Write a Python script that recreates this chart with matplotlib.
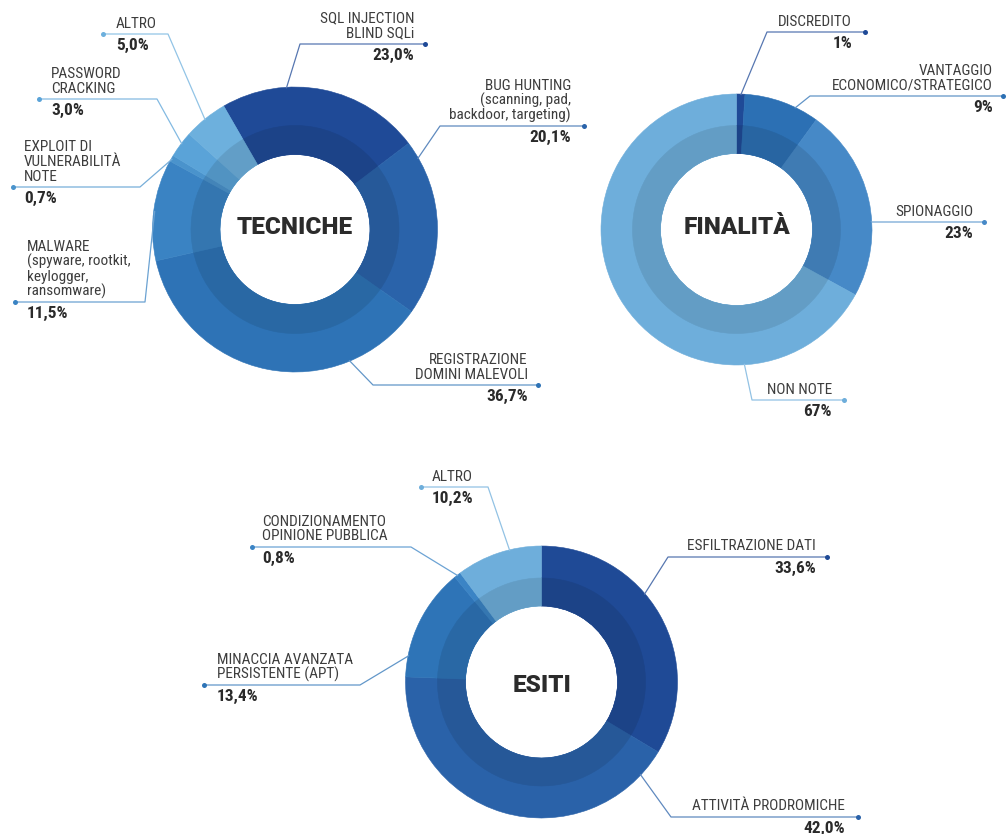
import matplotlib
matplotlib.use('Agg')
import matplotlib.pyplot as plt
import numpy as np
from matplotlib.colors import to_rgb

# ---------------- data ----------------
tec_labels = [["SQL INJECTION", "BLIND SQLi"],
              ["BUG HUNTING", "(scanning, pad,", "backdoor, targeting)"],
              ["REGISTRAZIONE", "DOMINI MALEVOLI"],
              ["MALWARE", "(spyware, rootkit,", "keylogger,", "ransomware)"],
              ["EXPLOIT DI", "VULNERABILITÀ", "NOTE"],
              ["PASSWORD", "CRACKING"],
              ["ALTRO"]]
tec_values = [23.0, 20.1, 36.7, 11.5, 0.7, 3.0, 5.0]
tec_pct = ["23,0%", "20,1%", "36,7%", "11,5%", "0,7%", "3,0%", "5,0%"]

fin_labels = [["DISCREDITO"],
              ["VANTAGGIO", "ECONOMICO/STRATEGICO"],
              ["SPIONAGGIO"],
              ["NON NOTE"]]
fin_values = [1, 9, 23, 67]
fin_pct = ["1%", "9%", "23%", "67%"]

esi_labels = [["ESFILTRAZIONE DATI"],
              ["ATTIVITÀ PRODROMICHE"],
              ["MINACCIA AVANZATA", "PERSISTENTE (APT)"],
              ["CONDIZIONAMENTO", "OPINIONE PUBBLICA"],
              ["ALTRO"]]
esi_values = [33.6, 42.0, 13.4, 0.8, 10.2]
esi_pct = ["33,6%", "42,0%", "13,4%", "0,8%", "10,2%"]

titles = ["TECNICHE", "FINALITÀ", "ESITI"]

# ---------------- style / layout ----------------
W, H = 1007, 834
tec_colors = ["#1f4a97", "#2a63aa", "#2e73b6", "#3a83c3", "#4a93cc", "#5aa3d8", "#6db0dd"]
fin_colors = ["#1f4a97", "#2c70b4", "#4689c7", "#6eaedb"]
esi_colors = ["#1f4a96", "#2a62a9", "#2e74b7", "#3b84c5", "#6eaedb"]

NAME_FONT = ['Roboto Condensed', 'Liberation Sans Narrow', 'DejaVu Sans']
TITLE_FONT = ['Roboto', 'DejaVu Sans']

# donut geometry in pixels: (cx, cy, R, r_shade, r_hole, startangle)
donuts = [
    (295.0, 229.5, 142.5, 104.0, 75.0, 120),
    (736.5, 229.5, 135.5, 104.0, 76.0, 90),
    (541.5, 682.0, 136.0, 104.0, 76.0, 90),
]
# label layout: (align, text_x, line_y, dot_x, elbow_x, anchor fraction within wedge)
tec_layout = [("right", 414, 44, 425, 300, 0.32),
              ("right", 571, 126, 584, 440, 0.10),
              ("right", 528, 385, 538, 373, 0.245),
              ("left", 27, 302, 15, 145, 0.49),
              ("left", 24, 187, 13, 140, 0.5),
              ("left", 51, 99, 39, 157, 0.54),
              ("left", 116, 34, 103, 168, 0.48)]
fin_layout = [("right", 852, 32, 865, 767, 0.5),
              ("right", 993, 96, 1003, 810, 0.68),
              ("right", 973, 222, 984, 872, 0.61),
              ("right", 832, 400, 844, 752, 0.24)]
esi_layout = [("right", 816, 557, 827, 668, 0.41),
              ("right", 845, 817, 858, 671, 0.08),
              ("left", 217, 685, 204, 360, 0.19),
              ("left", 262, 547, 252, 411, 0.5),
              ("left", 432, 487, 421, 488, 0.63)]
title_pos = [(295, 227), (737, 227), (542, 686)]


def shade(c, f=0.9):
    r, g, b = to_rgb(c)
    return (r * f, g * f, b * f)


def lighten(c, f=0.18):
    r, g, b = to_rgb(c)
    return (r + (1 - r) * f, g + (1 - g) * f, b + (1 - b) * f)


fig = plt.figure(figsize=(W / 100, H / 100), dpi=100)
ax = fig.add_axes([0, 0, 1, 1])


def Y(y):
    return H - y


def draw_donut(values, colors, labels, pcts, layout, geom, title, tpos):
    cx, cy, R, rs, rh, start = geom
    wedges, _ = ax.pie(values, colors=colors, radius=R, center=(cx, Y(cy)),
                       startangle=start, counterclock=False,
                       wedgeprops=dict(width=R - rh, linewidth=0))
    inner, _ = ax.pie(values, colors=[shade(c) for c in colors], radius=rs,
                      center=(cx, Y(cy)), startangle=start, counterclock=False,
                      wedgeprops=dict(width=rs - rh, linewidth=0))
    for w in list(wedges) + list(inner):
        w.set_edgecolor(w.get_facecolor())
        w.set_linewidth(0.4)
    for w, col, name, pct, lay in zip(wedges, colors, labels, pcts, layout):
        align, tx, ly, dx, ex, frac = lay
        a = np.deg2rad(w.theta2 - frac * (w.theta2 - w.theta1))
        axp, ayp = cx + (R - 1) * np.cos(a), Y(cy) + (R - 1) * np.sin(a)
        lc = lighten(col, 0.25)
        ax.plot([axp, ex, dx], [ayp, Y(ly), Y(ly)], color=lc, lw=0.9,
                solid_capstyle='butt', zorder=3)
        ax.plot([dx], [Y(ly)], 'o', ms=3.6, color=col, mec='none', zorder=4)
        n = len(name)
        for i, line in enumerate(name):
            yy = ly - 10.5 - (n - 1 - i) * 15
            ax.text(tx, Y(yy), line, ha=align, va='center', fontsize=11.0,
                    family=NAME_FONT, color='#3d3d3d')
        ax.text(tx, Y(ly + 11.5), pct, ha=align, va='center', fontsize=12.4,
                family=NAME_FONT, fontweight='bold', color='#2a2a2a')
    ax.text(tpos[0], Y(tpos[1]), title, ha='center', va='center',
            fontsize=17.5, family=TITLE_FONT, fontweight='black',
            color='#2b2b2b')


draw_donut(tec_values, tec_colors, tec_labels, tec_pct, tec_layout,
           donuts[0], titles[0], title_pos[0])
draw_donut(fin_values, fin_colors, fin_labels, fin_pct, fin_layout,
           donuts[1], titles[1], title_pos[1])
draw_donut(esi_values, esi_colors, esi_labels, esi_pct, esi_layout,
           donuts[2], titles[2], title_pos[2])

ax.set_xlim(0, W)
ax.set_ylim(0, H)
ax.set_aspect('auto')
ax.axis('off')
fig.savefig('out.png', dpi=100, facecolor='white')
